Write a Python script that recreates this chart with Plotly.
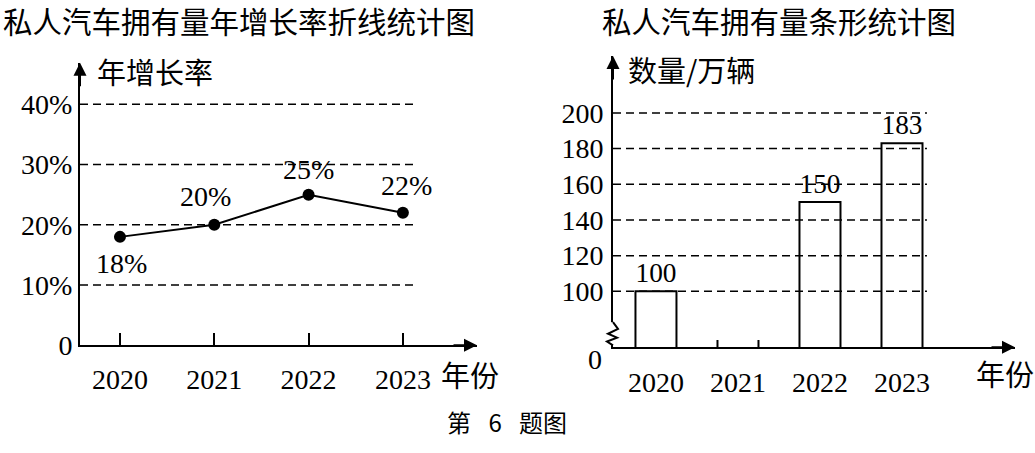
import plotly.graph_objects as go

# data
years = [2020, 2021, 2022, 2023]
growth_rate = [18, 20, 25, 22]
growth_labels = ["18%", "20%", "25%", "22%"]
rate_ticks = [0, 10, 20, 30, 40]
rate_tick_text = ["0", "10%", "20%", "30%", "40%"]

car_count = [100, None, 150, 183]
count_ticks = [100, 120, 140, 160, 180, 200]

W, H = 1035, 453
NUM = "Liberation Serif"
CJK = "Noto Sans CJK SC"


def px(x):
    return x / W


def py(y):
    return 1 - y / H


fig = go.Figure()

# line chart (left)
fig.add_trace(go.Scatter(
    x=years, y=growth_rate, mode="lines+markers",
    line=dict(color="black", width=2),
    marker=dict(size=12, color="black"),
    xaxis="x", yaxis="y", hoverinfo="skip",
))

# bar chart (right)
fig.add_trace(go.Bar(
    x=years, y=car_count, width=0.5,
    marker=dict(color="white", line=dict(color="black", width=2)),
    text=["" if v is None else str(v) for v in car_count],
    textposition="outside",
    textfont=dict(family=NUM, size=28, color="black"),
    xaxis="x2", yaxis="y2", hoverinfo="skip",
))

axis_common = dict(
    showline=True, linecolor="black", linewidth=2,
    showgrid=False, zeroline=False,
    tickfont=dict(family=NUM, size=28, color="black"),
)

fig.update_layout(
    width=W, height=H,
    margin=dict(l=0, r=0, t=0, b=0),
    paper_bgcolor="white", plot_bgcolor="white",
    showlegend=False,
    xaxis=dict(
        domain=[px(80), px(477)], range=[2019.576, 2023.786],
        tickvals=years, ticktext=[str(y) for y in years],
        ticks="inside", ticklen=12, tickwidth=2, tickcolor="black",
        ticklabelstandoff=8, anchor="y", **axis_common,
    ),
    yaxis=dict(
        domain=[py(358), py(65)], range=[0, 46.9],
        tickvals=rate_ticks, ticktext=rate_tick_text,
        ticks="", anchor="x", **axis_common,
    ),
    xaxis2=dict(
        domain=[px(613), px(1015)], range=[2019.476, 2024.378],
        tickvals=years, ticktext=[str(y) for y in years],
        ticks="", ticklabelstandoff=9, anchor="y2", **axis_common,
    ),
    yaxis2=dict(
        domain=[py(360), py(58)], range=[68.65, 231.9],
        tickvals=count_ticks, ticktext=[str(v) for v in count_ticks],
        ticks="", ticklabelstandoff=2, anchor="x2", **axis_common,
    ),
)

shapes = []
dash = dict(color="black", width=1.5, dash="8px,5px")
for v in rate_ticks[1:]:
    shapes.append(dict(type="line", xref="x domain", yref="y",
                       x0=0, x1=0.849, y0=v, y1=v, line=dash))
for v in count_ticks:
    shapes.append(dict(type="line", xref="x2 domain", yref="y2",
                       x0=0, x1=0.781, y0=v, y1=v, line=dash))

# empty slot for 2021 bar: two small ticks on the axis
for edge in (-0.25, 0.25):
    shapes.append(dict(type="line", xref="x2", yref="y2 domain",
                       x0=years[1] + edge, x1=years[1] + edge, y0=0, y1=0.025,
                       line=dict(color="black", width=2)))

# axis break mark on the right y axis
shapes.append(dict(type="rect", xref="paper", yref="paper",
                   x0=px(609), x1=px(617), y0=py(357), y1=py(334),
                   fillcolor="white", line=dict(width=0)))
zig = [(613, 334), (618, 341), (608, 346), (617, 350), (607, 354), (613, 358)]
path = "M " + " L ".join(f"{px(a)},{py(b)}" for a, b in zig)
shapes.append(dict(type="path", xref="paper", yref="paper", path=path,
                   line=dict(color="black", width=2)))
fig.update_layout(shapes=shapes)

ann = []
# point labels on the line chart
label_shift = [(2, -27), (-9, 28), (0, 25), (4, 27)]
for x, y, t, (dx, dy) in zip(years, growth_rate, growth_labels, label_shift):
    ann.append(dict(x=x, y=y, xref="x", yref="y", text=t, showarrow=False,
                    xshift=dx, yshift=dy,
                    font=dict(family=NUM, size=28, color="black")))

# arrow heads on the axes
for xa, ya in (("x", "y"), ("x2", "y2")):
    ann.append(dict(x=0, y=1, xref=f"{xa} domain", yref=f"{ya} domain",
                    ax=0, ay=25, text="", showarrow=True, arrowhead=2,
                    arrowsize=1.3, arrowwidth=2, arrowcolor="black"))
    ann.append(dict(x=1, y=0, xref=f"{xa} domain", yref=f"{ya} domain",
                    ax=-25, ay=0, text="", showarrow=True, arrowhead=2,
                    arrowsize=1.3, arrowwidth=2, arrowcolor="black"))


def text_at(x, y, t, size=29, family=CJK, xanchor="center"):
    ann.append(dict(x=px(x), y=py(y), xref="paper", yref="paper", text=t,
                    showarrow=False, xanchor=xanchor, yanchor="middle",
                    font=dict(family=family, size=size, color="black")))


text_at(1, 21, "私人汽车拥有量年增长率折线统计图", size=29.5, xanchor="left")
text_at(600, 21, "私人汽车拥有量条形统计图", size=29.5, xanchor="left")
text_at(95, 74, "年增长率", xanchor="left")
text_at(626, 72, "数量/万辆", xanchor="left")
text_at(470, 388, "年份")
text_at(1005, 387, "年份")
text_at(595, 373, "0", size=28, family=NUM)
text_at(507, 437, "第\u2002 6 \u2002题图", size=24)
fig.update_layout(annotations=ann)

# drop the default page margin so the figure sits at the window corner
fig.write_html("out.html", config={"displayModeBar": False},
               post_script="document.body.style.margin='0';")
